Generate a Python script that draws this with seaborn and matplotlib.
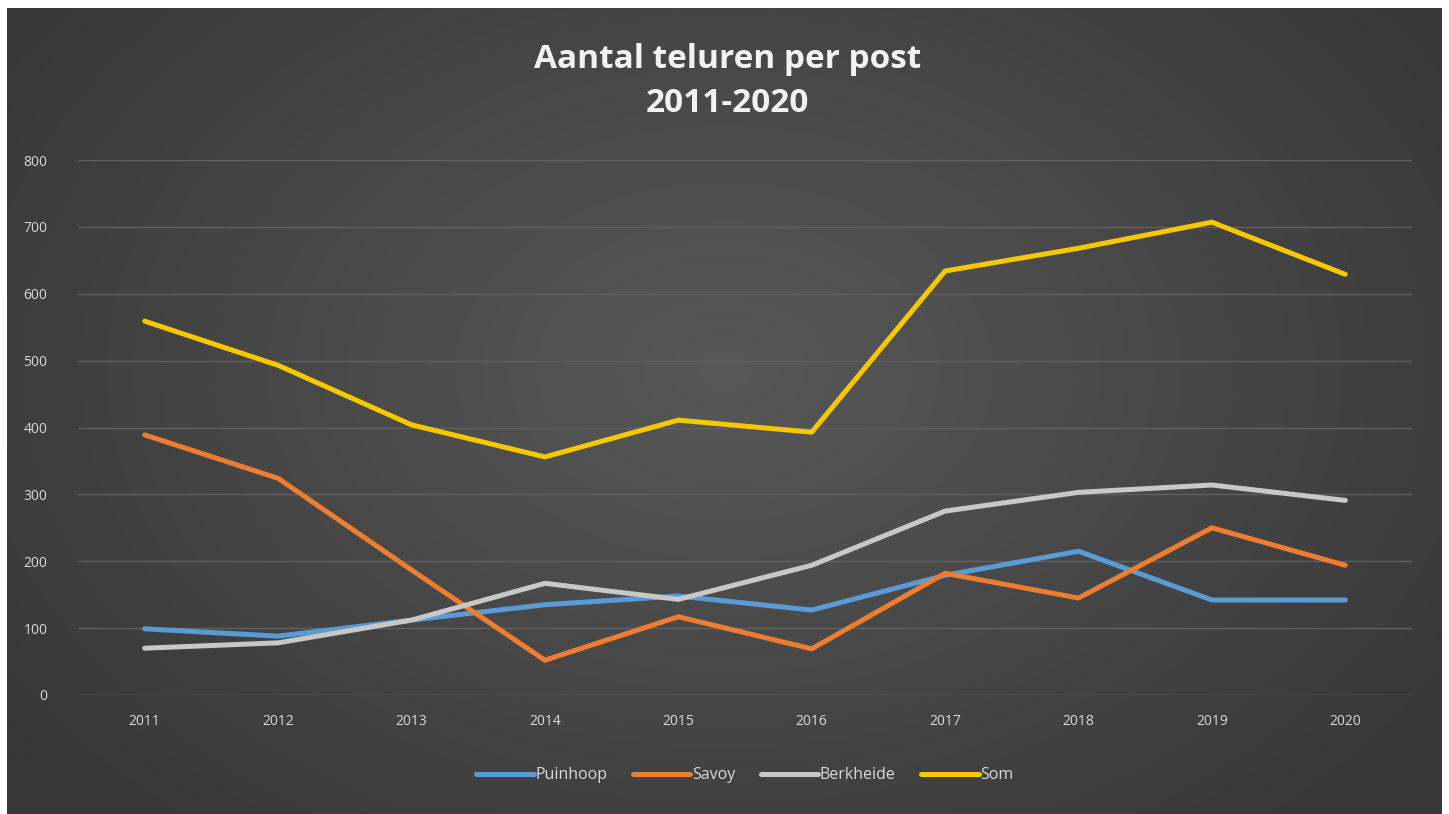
import numpy as np
import pandas as pd
import matplotlib
matplotlib.use("Agg")
import matplotlib.pyplot as plt
import seaborn as sns

# data
years = ["2011", "2012", "2013", "2014", "2015", "2016", "2017", "2018", "2019", "2020"]
puinhoop = [99, 88, 112, 135, 148, 127, 179, 215, 142, 142]
savoy = [389, 324, 187, 52, 117, 69, 182, 145, 250, 194]
berkheide = [70, 78, 112, 167, 143, 194, 275, 303, 314, 291]
som = [559, 493, 404, 356, 411, 393, 634, 668, 707, 629]

series_names = ["Puinhoop", "Savoy", "Berkheide", "Som"]
kleuren = ["#5B9BD5", "#ED7D31", "#C8C8C8", "#F5C800"]

df = pd.DataFrame({"jaar": years, "Puinhoop": puinhoop, "Savoy": savoy,
                   "Berkheide": berkheide, "Som": som})
lang = df.melt(id_vars="jaar", var_name="post", value_name="uren")

sns.set_theme(style="dark")
plt.rcParams["font.family"] = ["Open Sans", "DejaVu Sans"]

W, H = 1449, 814
fig = plt.figure(figsize=(W / 100, H / 100), dpi=100, facecolor="white")

# achtergrond: radiaal verloop zoals de Excel-stijl
bg = fig.add_axes([7 / W, 0, (1442 - 7) / W, 1 - 8 / H])
yy, xx = np.mgrid[0:1:300j, 0:1:500j]
r = np.sqrt(((xx - 0.5) * 1.0) ** 2 + ((yy - 0.45) * 0.8) ** 2)
r = np.clip(r / 0.6, 0, 1)
licht = np.array([0x58, 0x58, 0x58]) / 255
donker = np.array([0x38, 0x38, 0x38]) / 255
img = licht[None, None, :] * (1 - r[..., None]) + donker[None, None, :] * r[..., None]
bg.imshow(img, aspect="auto", extent=[0, 1, 0, 1])
bg.set_axis_off()

ax = fig.add_axes([78 / W, 1 - 695 / H, (1412 - 78) / W, (695 - 160) / H])
ax.patch.set_alpha(0)

sns.lineplot(data=lang, x="jaar", y="uren", hue="post", hue_order=series_names,
             palette=kleuren, linewidth=3.6, ax=ax, sort=False)

ax.set_xlim(-0.5, len(years) - 0.5)
ax.set_ylim(0, 800)
ax.set_yticks(range(0, 801, 100))
ax.grid(axis="y", color="#606060", linewidth=1)
ax.grid(axis="x", visible=False)
ax.set_xlabel("")
ax.set_ylabel("")
for s in ax.spines.values():
    s.set_visible(False)
ax.tick_params(axis="both", colors="#D9D9D9", labelsize=10, length=0)
ax.tick_params(axis="x", pad=14)
ax.tick_params(axis="y", pad=22)

fig.text(0.502, 1 - 60 / H, "Aantal teluren per post", ha="center", va="center",
         color="#F2F2F2", fontsize=24, fontweight="bold")
fig.text(0.502, 1 - 104 / H, "2011-2020", ha="center", va="center",
         color="#F2F2F2", fontsize=24, fontweight="bold")

handles, labels = ax.get_legend_handles_labels()
ax.legend(handles, labels, loc="center", bbox_to_anchor=(0.5, -0.15), ncol=4,
          frameon=False, fontsize=11.5, labelcolor="#D9D9D9", handlelength=3.6,
          handletextpad=0.1, columnspacing=1.6)

fig.savefig("out.png", dpi=100, facecolor="white")
